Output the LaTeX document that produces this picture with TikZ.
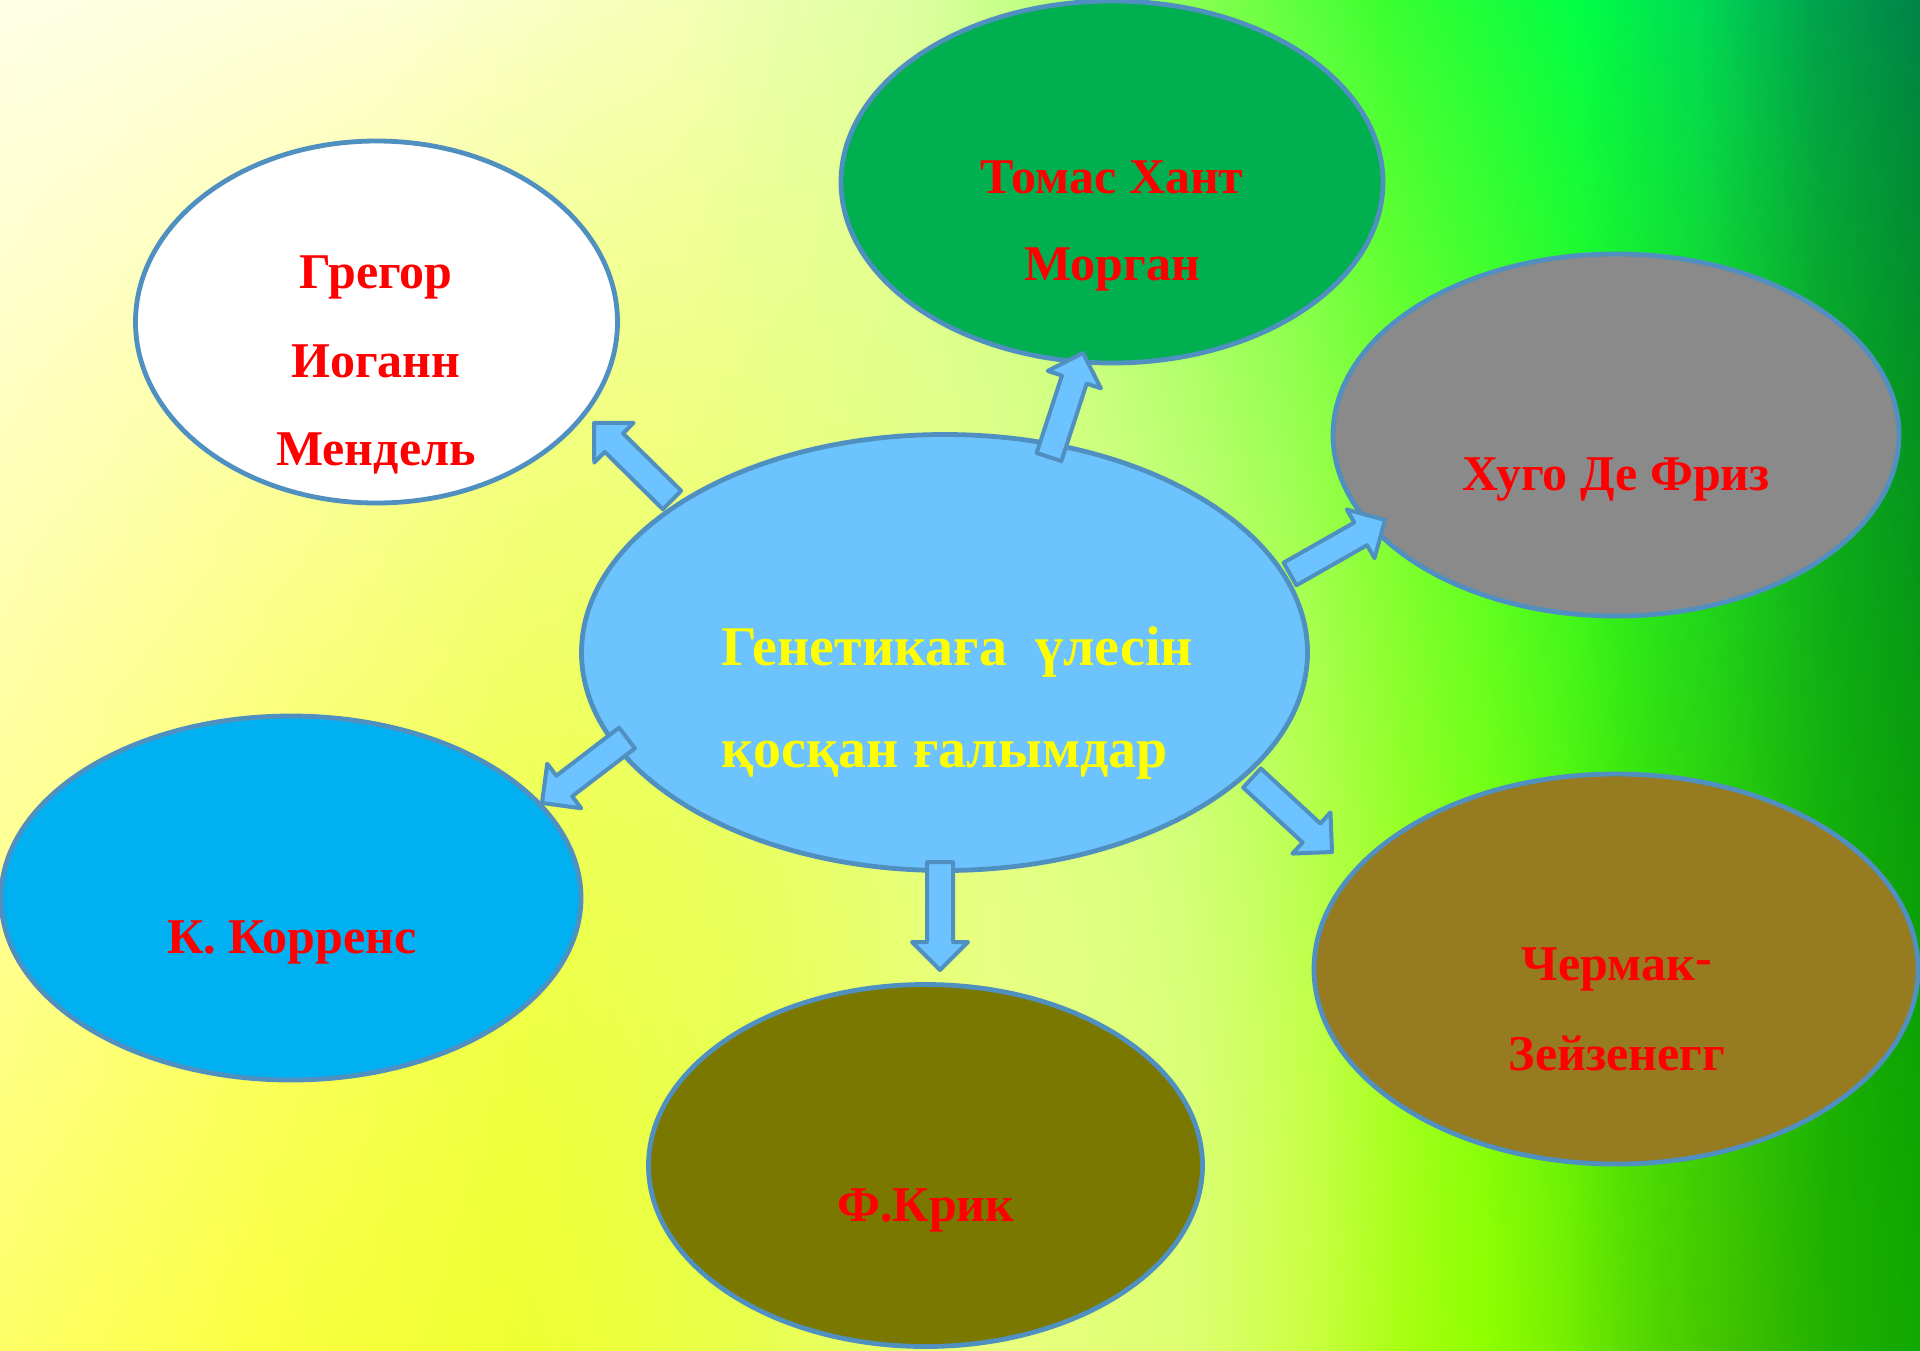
\documentclass[tikz,border=0pt]{standalone}
\usepackage{fontspec}
\setmainfont{Liberation Serif}
\usetikzlibrary{shapes.geometric,calc,fadings}

% outline and fill colours
\definecolor{rimblue}{HTML}{5090C0}
\definecolor{arrowfill}{HTML}{6CC3FF}
\definecolor{hubfill}{HTML}{6CC3FE}
\definecolor{morganfill}{HTML}{00B050}
\definecolor{vriesfill}{HTML}{8A8A8A}
\definecolor{corrensfill}{HTML}{00B0F0}
\definecolor{crickfill}{HTML}{7A7800}
\definecolor{tschermakfill}{HTML}{967B20}
\definecolor{namered}{HTML}{FF0000}
\definecolor{titleyellow}{HTML}{FFFF00}

% background: three horizontal bands blended vertically
\definecolor{ta}{HTML}{FFFFEA}\definecolor{tb}{HTML}{FFFFD8}\definecolor{tc}{HTML}{F6FFB8}
\definecolor{td}{HTML}{DCFFA0}\definecolor{te}{HTML}{B4FF78}\definecolor{tf}{HTML}{78FF48}
\definecolor{tg}{HTML}{38FF30}\definecolor{th}{HTML}{00FF48}\definecolor{ti}{HTML}{00DC58}
\definecolor{tj}{HTML}{00A450}\definecolor{tk}{HTML}{008048}
\pgfdeclarehorizontalshading{bgtop}{100bp}{color(0bp)=(ta); color(25bp)=(ta); color(35bp)=(tb);
  color(43bp)=(tc); color(49bp)=(td); color(53bp)=(te); color(57bp)=(tf); color(61bp)=(tg);
  color(66bp)=(th); color(69bp)=(ti); color(72bp)=(tj); color(75bp)=(tk); color(100bp)=(tk)}

\definecolor{ma}{HTML}{FFFFEA}\definecolor{mb}{HTML}{FDFFD0}\definecolor{mc}{HTML}{F6FF90}
\definecolor{md}{HTML}{ECFF60}\definecolor{me}{HTML}{E8FF70}\definecolor{mf}{HTML}{F2FFA8}
\definecolor{mg}{HTML}{D0FF90}\definecolor{mh}{HTML}{A8FF60}\definecolor{mi}{HTML}{60FF30}
\definecolor{mj}{HTML}{18FF08}\definecolor{mk}{HTML}{00E800}\definecolor{ml}{HTML}{00B800}
\definecolor{mm}{HTML}{009000}
\pgfdeclarehorizontalshading{bgmid}{100bp}{color(0bp)=(ma); color(25bp)=(ma); color(29bp)=(mb);
  color(35bp)=(mc); color(40bp)=(md); color(47.5bp)=(me); color(54bp)=(mf); color(58bp)=(mg);
  color(61bp)=(mh); color(64bp)=(mi); color(67bp)=(mj); color(70bp)=(mk); color(72.5bp)=(ml);
  color(75bp)=(mm); color(100bp)=(mm)}

\definecolor{ba}{HTML}{FFFF68}\definecolor{bb}{HTML}{FCFF40}\definecolor{bc}{HTML}{EEFF30}
\definecolor{bd}{HTML}{E8FF48}\definecolor{be}{HTML}{EAFF80}\definecolor{bf}{HTML}{DCFF70}
\definecolor{bg}{HTML}{CCFF40}\definecolor{bh}{HTML}{A8FF10}\definecolor{bi}{HTML}{90FF00}
\definecolor{bj}{HTML}{78F000}\definecolor{bk}{HTML}{58D800}\definecolor{bl}{HTML}{40C000}
\definecolor{bm}{HTML}{20B000}\definecolor{bn}{HTML}{10A800}
\pgfdeclarehorizontalshading{bgbot}{100bp}{color(0bp)=(ba); color(25bp)=(ba); color(32bp)=(bb);
  color(38.5bp)=(bc); color(44bp)=(bd); color(51bp)=(be); color(56bp)=(bf); color(59bp)=(bg);
  color(61.5bp)=(bh); color(63.5bp)=(bi); color(65.5bp)=(bj); color(67.5bp)=(bk); color(70bp)=(bl);
  color(72.5bp)=(bm); color(75bp)=(bn); color(100bp)=(bn)}

% opaque at the top edge, clear from the middle down; and the mirror image
\tikzfading[name=topband, top color=transparent!0, middle color=transparent!100, bottom color=transparent!100]
\tikzfading[name=bottomband, top color=transparent!100, middle color=transparent!100, bottom color=transparent!0]

\tikzset{
  blob/.style={ellipse, draw=rimblue, line width=2.4pt, inner sep=0pt},
  blockarrow/.style={draw=rimblue, fill=arrowfill, line width=2pt, line join=round},
  namefont/.style={font=\bfseries\fontsize{25}{30}\selectfont, text=namered, inner sep=0pt},
  titlefont/.style={font=\bfseries\fontsize{28}{34}\selectfont, text=titleyellow, inner sep=0pt},
}

% block arrow from tail #1 to tip #2: shaft 13px wide, head 56px wide and 28px long
\newcommand\blockarrowdraw[2]{%
  \path ($(#2)!14pt!(#1)$) coordinate (headbase);
  \draw[blockarrow] ($(#1)!6.5pt!90:(#2)$) -- ($(headbase)!6.5pt!90:(#2)$)
    -- ($(headbase)!14pt!90:(#2)$) -- (#2) -- ($(headbase)!14pt!-90:(#2)$)
    -- ($(headbase)!6.5pt!-90:(#2)$) -- ($(#1)!6.5pt!-90:(#2)$) -- cycle;}

\begin{document}
\begin{tikzpicture}[x=0.5pt, y=-0.5pt]
\useasboundingbox (0,0) rectangle (1920,1350);

% background, a little larger than the page so its edges stay clean
\shade[shading=bgmid] (-12,-12) rectangle (1932,1362);
\shade[shading=bgtop, path fading=topband] (-12,-12) rectangle (1932,1362);
\shade[shading=bgbot, path fading=bottomband] (-12,-12) rectangle (1932,1362);

% outer ellipses
\node[blob, fill=white, minimum width=241pt, minimum height=181pt] (mendel) at (376.5,322) {};
\node[blob, fill=morganfill, minimum width=271pt, minimum height=181pt] (morgan) at (1112,182) {};
\node[blob, fill=vriesfill, minimum width=283pt, minimum height=181pt] (vries) at (1616,435) {};
\node[blob, fill=corrensfill, minimum width=290pt, minimum height=182pt] (correns) at (291,898) {};
\node[blob, fill=crickfill, minimum width=277pt, minimum height=181pt] (crick) at (925.5,1165.5) {};
\node[blob, fill=tschermakfill, minimum width=302pt, minimum height=195pt] (tschermak) at (1616,969) {};

% arrow end points
\coordinate (mendelT) at (672,500);   \coordinate (mendelH) at (594,423);
\coordinate (morganT) at (1049,457);  \coordinate (morganH) at (1083,353);
\coordinate (vriesT) at (1290,574);   \coordinate (vriesH) at (1385,520);
\coordinate (tschermakT) at (1252,778); \coordinate (tschermakH) at (1332,852);
\coordinate (crickT) at (940,862);    \coordinate (crickH) at (940,970);
\coordinate (corrensT) at (627,738);  \coordinate (corrensH) at (542,803);

\blockarrowdraw{mendelT}{mendelH}

% central ellipse
\node[blob, fill=hubfill, minimum width=363pt, minimum height=218pt] (hub) at (944.5,652.5) {};

\blockarrowdraw{morganT}{morganH}
\blockarrowdraw{vriesT}{vriesH}
\blockarrowdraw{tschermakT}{tschermakH}
\blockarrowdraw{crickT}{crickH}
\blockarrowdraw{corrensT}{corrensH}

% texts
\node[titlefont, anchor=base west] (hubA) at (721,665) {Генетикаға~ үлесін};
\node[titlefont, anchor=base west] (hubB) at (721,767) {қосқан ғалымдар};

\node[namefont, anchor=base] (mendelA) at (376,288) {Грегор};
\node[namefont, anchor=base] (mendelB) at (376,377) {Иоганн};
\node[namefont, anchor=base] (mendelC) at (376,465) {Мендель};

\node[namefont, anchor=base] (morganA) at (1112,193) {Томас Хант};
\node[namefont, anchor=base] (morganB) at (1112,280) {Морган};

\node[namefont, anchor=base] (vriesA) at (1616,490) {Хуго Де Фриз};

\node[namefont, anchor=base] (corrensA) at (292,953) {К. Корренс};

\node[namefont, anchor=base] (crickA) at (926,1221) {Ф.Крик};

\node[namefont, anchor=base] (tschermakA) at (1617,980) {Чермак\raisebox{0.12em}{-}};
\node[namefont, anchor=base] (tschermakB) at (1617,1070) {Зейзенегг};
\end{tikzpicture}
\end{document}
